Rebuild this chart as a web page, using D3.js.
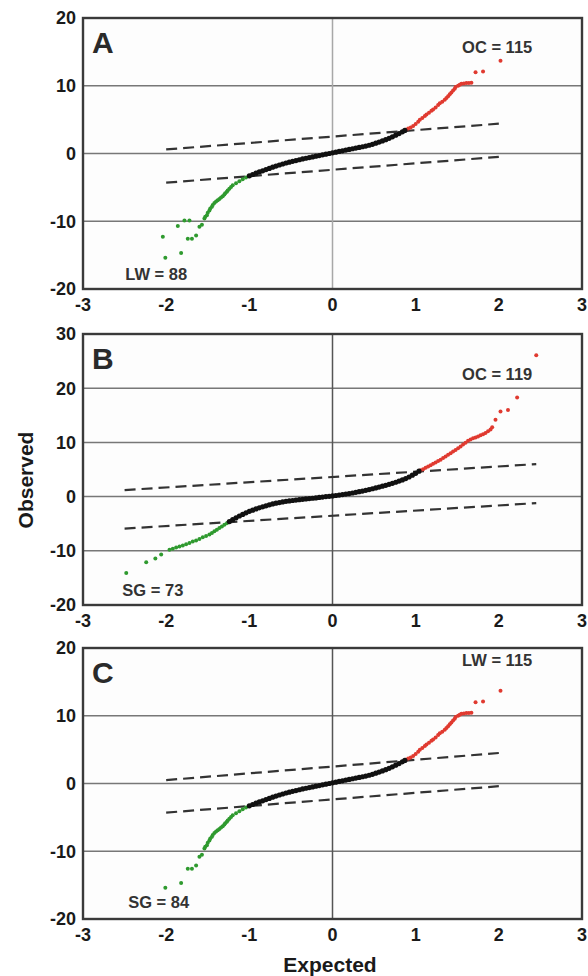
<!DOCTYPE html>
<html>
<head>
<meta charset="utf-8">
<script src="https://cdn.jsdelivr.net/npm/d3@7"></script>
<style>
  body { margin: 0; background: #fff; }
  text { font-family: "Liberation Sans", Arial, sans-serif; font-weight: bold; }
</style>
</head>
<body>
<svg id="chart" width="588" height="976"></svg>
<script>
// x ticks shared by all three panels
const xTicks = [-3, -2, -1, 0, 1, 2, 3];
const yTicksAC = [-20, -10, 0, 10, 20];
const yTicksB = [-20, -10, 0, 10, 20, 30];

/* Panel A */
const aBlack = [
  [-1.00,-3.30],[-0.96,-3.10],[-0.92,-2.90],[-0.88,-2.72],[-0.84,-2.55],[-0.80,-2.38],[-0.76,-2.20],
  [-0.72,-2.02],[-0.68,-1.86],[-0.64,-1.70],[-0.60,-1.55],[-0.56,-1.40],[-0.52,-1.28],[-0.48,-1.16],
  [-0.44,-1.04],[-0.40,-0.92],[-0.36,-0.80],[-0.32,-0.70],[-0.28,-0.60],[-0.24,-0.50],[-0.20,-0.40],
  [-0.16,-0.30],[-0.12,-0.20],[-0.08,-0.10],[-0.04,0.00],[0.00,0.10],[0.04,0.20],[0.08,0.30],
  [0.12,0.40],[0.16,0.50],[0.20,0.60],[0.24,0.70],[0.28,0.80],[0.32,0.90],[0.36,1.00],[0.40,1.10],
  [0.44,1.22],[0.48,1.36],[0.52,1.52],[0.56,1.68],[0.60,1.86],[0.64,2.04],[0.68,2.24],[0.72,2.46],
  [0.76,2.70],[0.80,2.94],[0.84,3.20],[0.87,3.40]
];
const aRed = [
  [0.88,3.50],[0.91,3.70],[0.94,3.85],[0.97,4.05],[1.00,4.35],[1.03,4.70],[1.05,5.00],[1.08,5.25],
  [1.11,5.55],[1.13,5.75],[1.16,6.00],[1.19,6.30],[1.21,6.50],[1.24,6.80],[1.27,7.15],[1.29,7.40],
  [1.32,7.65],[1.35,7.95],[1.37,8.20],[1.39,8.45],[1.41,8.75],[1.43,9.00],[1.45,9.30],[1.47,9.55],
  [1.48,9.80],[1.51,10.00],[1.53,10.15],[1.55,10.30],[1.58,10.35],[1.61,10.40],[1.64,10.40],
  [1.67,10.45],[1.72,12.00],[1.81,12.10],[2.02,13.70]
];
const aGreen = [
  [-1.04,-3.55],[-1.08,-3.80],[-1.12,-4.10],[-1.16,-4.40],[-1.20,-4.70],[-1.22,-4.95],[-1.24,-5.20],
  [-1.26,-5.45],[-1.27,-5.65],[-1.29,-5.85],[-1.30,-6.05],[-1.32,-6.30],[-1.34,-6.50],[-1.36,-6.70],
  [-1.38,-6.90],[-1.40,-7.10],[-1.42,-7.30],[-1.44,-7.60],[-1.45,-7.85],[-1.47,-8.10],[-1.48,-8.40],
  [-1.50,-8.75],[-1.51,-9.10],[-1.53,-9.35],[-1.54,-9.60],[-1.57,-10.50],[-1.60,-10.80],
  [-1.64,-12.10],[-1.69,-12.60],[-1.74,-12.60],[-1.72,-9.90],[-1.78,-9.90],[-1.86,-10.70],
  [-1.82,-14.70],[-2.01,-15.40],[-2.04,-12.30]
];
const aDash = [[[-2, 0.6], [2, 4.4]], [[-2, -4.3], [2, -0.5]]];

/* Panel B */
const bBlack = [
  [-1.24,-4.60],[-1.20,-4.25],[-1.16,-3.90],[-1.12,-3.58],[-1.08,-3.28],[-1.04,-3.00],[-1.00,-2.72],
  [-0.96,-2.50],[-0.92,-2.28],[-0.88,-2.08],[-0.84,-1.88],[-0.80,-1.70],[-0.76,-1.52],[-0.72,-1.36],
  [-0.68,-1.22],[-0.64,-1.10],[-0.60,-0.98],[-0.56,-0.88],[-0.52,-0.80],[-0.48,-0.72],[-0.44,-0.64],
  [-0.40,-0.56],[-0.36,-0.50],[-0.32,-0.43],[-0.28,-0.37],[-0.24,-0.30],[-0.20,-0.24],[-0.16,-0.16],
  [-0.12,-0.08],[-0.08,0.00],[-0.04,0.05],[0.00,0.12],[0.04,0.20],[0.08,0.28],[0.12,0.37],
  [0.16,0.46],[0.20,0.55],[0.24,0.66],[0.28,0.78],[0.32,0.90],[0.36,1.02],[0.40,1.15],[0.44,1.30],
  [0.48,1.45],[0.52,1.60],[0.56,1.76],[0.60,1.92],[0.64,2.08],[0.68,2.26],[0.72,2.45],[0.76,2.65],
  [0.80,2.86],[0.84,3.08],[0.88,3.32],[0.92,3.62],[0.96,3.95],[1.00,4.30],[1.04,4.70]
];
const bRed = [
  [1.06,4.85],[1.09,5.05],[1.12,5.30],[1.15,5.55],[1.18,5.80],[1.21,6.05],[1.24,6.30],[1.27,6.55],
  [1.30,6.82],[1.33,7.10],[1.36,7.40],[1.39,7.70],[1.42,8.00],[1.45,8.30],[1.48,8.60],[1.51,8.90],
  [1.54,9.25],[1.57,9.60],[1.60,9.95],[1.63,10.30],[1.66,10.55],[1.69,10.75],[1.72,10.90],
  [1.75,11.10],[1.78,11.30],[1.81,11.50],[1.84,11.75],[1.87,12.05],[1.90,12.40],[1.92,12.80],
  [1.96,14.20],[2.02,15.70],[2.11,16.00],[2.22,18.30],[2.45,26.10]
];
const bGreen = [
  [-1.27,-4.90],[-1.30,-5.20],[-1.33,-5.50],[-1.36,-5.80],[-1.39,-6.10],[-1.42,-6.40],[-1.45,-6.70],
  [-1.48,-7.00],[-1.52,-7.25],[-1.56,-7.50],[-1.60,-7.80],[-1.64,-8.10],[-1.68,-8.30],[-1.72,-8.55],
  [-1.76,-8.80],[-1.80,-9.00],[-1.84,-9.20],[-1.88,-9.40],[-1.92,-9.60],[-1.96,-9.80],
  [-2.06,-10.70],[-2.13,-11.40],[-2.24,-12.10],[-2.48,-14.10]
];
const bDash = [[[-2.5, 1.2], [2.45, 6.0]], [[-2.5, -5.9], [2.45, -1.2]]];

/* Panel C: same upper tail as A */
const cBlack = aBlack;
const cRed = aRed;
const cGreen = [
  [-1.04,-3.55],[-1.08,-3.80],[-1.12,-4.10],[-1.16,-4.40],[-1.20,-4.70],[-1.22,-4.95],[-1.24,-5.20],
  [-1.26,-5.45],[-1.27,-5.65],[-1.29,-5.85],[-1.30,-6.05],[-1.32,-6.30],[-1.34,-6.50],[-1.36,-6.70],
  [-1.38,-6.90],[-1.40,-7.10],[-1.42,-7.30],[-1.44,-7.60],[-1.45,-7.85],[-1.47,-8.10],[-1.48,-8.40],
  [-1.50,-8.75],[-1.51,-9.10],[-1.53,-9.35],[-1.54,-9.60],[-1.57,-10.50],[-1.60,-10.80],
  [-1.64,-12.10],[-1.69,-12.60],[-1.74,-12.60],[-1.82,-14.70],[-2.01,-15.40]
];
const cDash = [[[-2, 0.5], [2, 4.5]], [[-2, -4.3], [2, -0.4]]];

const panels = [
  { letter: 'A', top: 18, yTicks: yTicksAC, black: aBlack, red: aRed, green: aGreen, dash: aDash,
    labels: [{ t: 'OC = 115', x: 1.98, y: 14.9 }, { t: 'LW = 88', x: -2.12, y: -18.7 }] },
  { letter: 'B', top: 334, yTicks: yTicksB, black: bBlack, red: bRed, green: bGreen, dash: bDash,
    labels: [{ t: 'OC = 119', x: 1.98, y: 21.6 }, { t: 'SG = 73', x: -2.16, y: -18.3 }] },
  { letter: 'C', top: 648, yTicks: yTicksAC, black: cBlack, red: cRed, green: cGreen, dash: cDash,
    labels: [{ t: 'LW = 115', x: 1.98, y: 17.3 }, { t: 'SG = 84', x: -2.09, y: -18.4 }] }
];

const svg = d3.select('#chart');
const left = 83, right = 582, plotH = 271;

const x = d3.scaleLinear().domain([-3, 3]).range([left, right]);

panels.forEach(p => {
  const y = d3.scaleLinear()
    .domain(d3.extent(p.yTicks))
    .range([p.top + plotH, p.top]);
  const g = svg.append('g');

  g.append('rect')
    .attr('x', left).attr('y', p.top)
    .attr('width', right - left).attr('height', plotH)
    .attr('fill', '#fdfdfd');

  // grid
  g.selectAll('.hgrid')
    .data(p.yTicks.slice(1, -1))
    .join('line')
    .attr('x1', left).attr('x2', right)
    .attr('y1', d => y(d)).attr('y2', d => y(d))
    .attr('stroke', '#777').attr('stroke-width', 1.5);
  g.append('line')
    .attr('x1', x(0)).attr('x2', x(0))
    .attr('y1', p.top).attr('y2', p.top + plotH)
    .attr('stroke', p.letter === 'A' ? '#a8a8a8' : '#555').attr('stroke-width', 1.5);

  // dashed reference lines
  g.selectAll('.dash')
    .data(p.dash)
    .join('line')
    .attr('x1', d => x(d[0][0])).attr('y1', d => y(d[0][1]))
    .attr('x2', d => x(d[1][0])).attr('y2', d => y(d[1][1]))
    .attr('stroke', '#333').attr('stroke-width', 2.2)
    .attr('stroke-dasharray', '11,6');

  const dots = (data, color, r) => g.append('g')
    .selectAll('circle')
    .data(data)
    .join('circle')
    .attr('cx', d => x(d[0])).attr('cy', d => y(d[1]))
    .attr('r', r).attr('fill', color);
  dots(p.green, '#2f9a2f', 2);
  dots(p.red, '#e03a30', 2);
  dots(p.black, '#111', 2.6);

  // frame
  g.append('rect')
    .attr('x', left).attr('y', p.top)
    .attr('width', right - left).attr('height', plotH)
    .attr('fill', 'none').attr('stroke', '#3a3a3a').attr('stroke-width', 2.4);

  // tick labels
  g.selectAll('.yl')
    .data(p.yTicks)
    .join('text')
    .attr('x', 76).attr('y', d => y(d)).attr('dy', '0.36em')
    .attr('text-anchor', 'end').attr('font-size', 18).attr('fill', '#1a1a1a')
    .text(d => d);
  g.selectAll('.xl')
    .data(xTicks)
    .join('text')
    .attr('x', d => x(d)).attr('y', p.top + plotH + 22)
    .attr('text-anchor', 'middle').attr('font-size', 18).attr('fill', '#1a1a1a')
    .text(d => d);

  g.append('text')
    .attr('x', 92).attr('y', p.top + 35)
    .attr('font-size', 30).attr('fill', '#2a2a2a')
    .text(p.letter);

  g.selectAll('.lab')
    .data(p.labels)
    .join('text')
    .attr('x', d => x(d.x)).attr('y', d => y(d.y))
    .attr('text-anchor', 'middle').attr('font-size', 16.5).attr('fill', '#333')
    .text(d => d.t);
});

svg.append('text')
  .attr('transform', 'translate(33,480) rotate(-90)')
  .attr('text-anchor', 'middle').attr('font-size', 21).attr('fill', '#1a1a1a')
  .text('Observed');
svg.append('text')
  .attr('x', 330).attr('y', 972)
  .attr('text-anchor', 'middle').attr('font-size', 21).attr('fill', '#1a1a1a')
  .text('Expected');
</script>
</body>
</html>
